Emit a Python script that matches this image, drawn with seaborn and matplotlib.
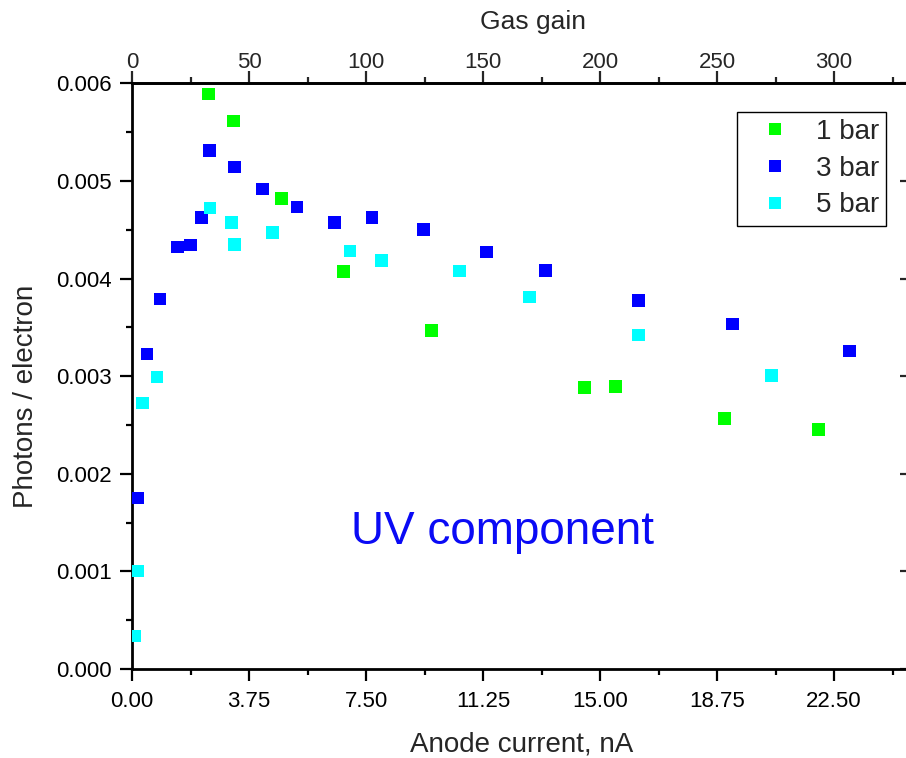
import matplotlib
matplotlib.use("Agg")
import matplotlib.pyplot as plt
from matplotlib.lines import Line2D
from matplotlib.ticker import MultipleLocator, FixedLocator
import numpy as np
import pandas as pd
import seaborn as sns

# Anode current (nA) and photon yield (photons per electron) for each pressure
current_1bar = [2.45, 3.25, 4.79, 6.79, 9.59, 14.50, 15.49, 18.98, 22.00]
yield_1bar = [0.00589, 0.005615, 0.00482, 0.00407, 0.00347, 0.002886, 0.002897, 0.002569, 0.002456]

current_3bar = [0.19, 0.48, 0.90, 1.47, 1.88, 2.23, 2.49, 3.29, 4.19, 5.29,
                6.50, 7.69, 9.34, 11.37, 13.25, 16.24, 19.24, 23.00]
yield_3bar = [0.001752, 0.003227, 0.003791, 0.004324, 0.004344, 0.004628, 0.005315,
              0.005143, 0.004918, 0.004734, 0.004577, 0.004626, 0.004505, 0.004273,
              0.004085, 0.003778, 0.003535, 0.003258]

current_5bar = [0.09, 0.19, 0.34, 0.80, 2.50, 3.20, 3.29, 4.50, 6.99, 7.99,
                10.49, 12.74, 16.24, 20.50]
yield_5bar = [0.000338, 0.001004, 0.002725, 0.002992, 0.004723, 0.004577, 0.004351,
              0.004474, 0.004283, 0.004188, 0.004078, 0.003811, 0.003422, 0.003009]

series_labels = ["1 bar", "3 bar", "5 bar"]
series_colors = ["#00FF00", "#0000FF", "#00FFFF"]

x_ticks = [0.0, 3.75, 7.5, 11.25, 15.0, 18.75, 22.5]
gain_ticks = [0, 50, 100, 150, 200, 250, 300]
y_ticks = [0.000, 0.001, 0.002, 0.003, 0.004, 0.005, 0.006]

# gas gain per nA of anode current
GAIN_PER_NA = 40.0 / 3.0

df = pd.DataFrame({
    "current": current_1bar + current_3bar + current_5bar,
    "yield": yield_1bar + yield_3bar + yield_5bar,
    "pressure": ([series_labels[0]] * len(current_1bar)
                 + [series_labels[1]] * len(current_3bar)
                 + [series_labels[2]] * len(current_5bar)),
})

sns.set_style("ticks")
plt.rcParams["font.family"] = ["Liberation Sans", "DejaVu Sans"]

W, H = 906, 758
fig = plt.figure(figsize=(W / 100, H / 100), dpi=100)
fig.patch.set_facecolor("white")

left_px, right_px, top_px, bottom_px = 132, 912, 83.3, 669
ax = fig.add_axes([left_px / W, 1 - bottom_px / H,
                   (right_px - left_px) / W, (bottom_px - top_px) / H])
ax.set_facecolor("white")

sns.scatterplot(data=df, x="current", y="yield", hue="pressure",
                hue_order=series_labels, palette=series_colors,
                marker="s", s=84, linewidth=0, ax=ax, legend=False, zorder=3)

ax.set_xlim(0, 25)
ax.set_ylim(0, 0.006)

spine_lw = 2.0
for side in ["left", "bottom", "top", "right"]:
    ax.spines[side].set_visible(True)
    ax.spines[side].set_linewidth(spine_lw)
    ax.spines[side].set_color("black")

ax.xaxis.set_major_locator(FixedLocator(x_ticks))
ax.xaxis.set_minor_locator(MultipleLocator(1.875))
ax.set_xticklabels([f"{v:.2f}" for v in x_ticks])
ax.yaxis.set_major_locator(FixedLocator(y_ticks))
ax.yaxis.set_minor_locator(MultipleLocator(0.0005))
ax.set_yticklabels([f"{v:.3f}" for v in y_ticks])

tick_kw = dict(direction="out", width=1.6, color="black", labelsize=16, labelcolor="black")
ax.tick_params(axis="both", which="major", length=8.6, **tick_kw)
ax.tick_params(axis="both", which="minor", length=4.6, direction="out", width=1.6, color="black")
ax.tick_params(axis="x", which="major", pad=7)
ax.tick_params(axis="y", which="major", pad=6)
ax.tick_params(top=False, right=False, which="both")

ax.set_xlabel("Anode current, nA", fontsize=20, labelpad=14.5)
ax.set_ylabel("Photons / electron", fontsize=20, labelpad=12)
ax.yaxis.label.set_y(0.466)

# Gas gain scale along the top edge
top_ax = ax.secondary_xaxis("top", functions=(lambda x: x * GAIN_PER_NA,
                                               lambda g: g / GAIN_PER_NA))
top_ax.xaxis.set_major_locator(FixedLocator(gain_ticks))
top_ax.xaxis.set_minor_locator(MultipleLocator(25))
top_ax.tick_params(which="major", length=8.6, direction="out", width=1.6,
                   labelsize=16, pad=-1)
top_ax.tick_params(which="minor", length=4.6, direction="out", width=1.6)
top_ax.spines["top"].set_linewidth(spine_lw)
top_ax.set_xlabel("Gas gain", fontsize=19, labelpad=16.5)
top_ax.xaxis.label.set_x(0.514)

# Mirrored ticks on the right edge, pointing inward, no labels
right_ax = ax.secondary_yaxis("right")
right_ax.yaxis.set_major_locator(FixedLocator(y_ticks))
right_ax.yaxis.set_minor_locator(MultipleLocator(0.0005))
right_ax.tick_params(which="major", length=8.6, direction="in", width=1.6, labelright=False)
right_ax.tick_params(which="minor", length=4.6, direction="in", width=1.6)
right_ax.spines["right"].set_linewidth(spine_lw)

ax.text(0.4756, 0.234, "UV component", transform=ax.transAxes, fontsize=33,
        color="#0a0af5", ha="center", va="center")

handles = [Line2D([], [], linestyle="none", marker="s", markersize=9.3,
                  markerfacecolor=c, markeredgewidth=0) for c in series_colors]
leg = fig.legend(handles, series_labels, loc="upper right",
                 bbox_to_anchor=(886 / W, 1 - 112 / H), fontsize=20,
                 frameon=True, fancybox=False, framealpha=1, edgecolor="black",
                 borderpad=0.26, labelspacing=0.38, handletextpad=0.31,
                 handlelength=2.27, borderaxespad=0)
leg.get_frame().set_linewidth(1.0)

fig.savefig("out.png", dpi=100, facecolor="white")
